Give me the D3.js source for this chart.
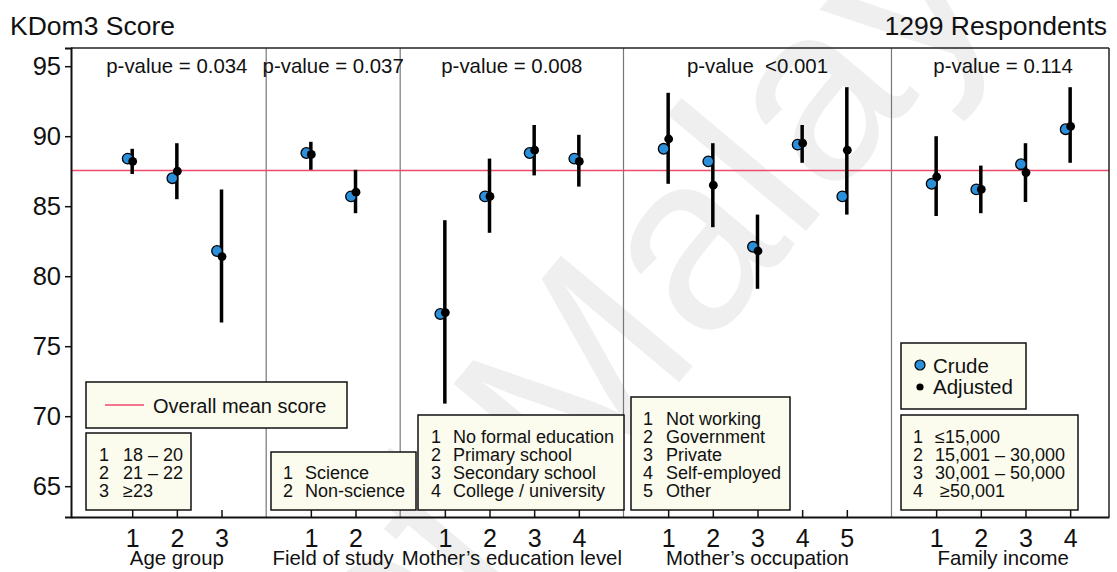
<!DOCTYPE html>
<html>
<head>
<meta charset="utf-8">
<script src="https://cdn.jsdelivr.net/npm/d3@7"></script>
<style>
  html, body { margin: 0; padding: 0; background: #fff; }
  svg { display: block; font-family: "Liberation Sans", Arial, sans-serif; }
  text { white-space: pre; }
</style>
</head>
<body>
<svg id="chart" width="1117" height="572"></svg>
<script>
// ---- data ----
const groups = ["Age group", "Field of study", "Mother\u2019s education level", "Mother\u2019s occupation", "Family income"];
const pValues = ["p-value = 0.034", "p-value = 0.037", "p-value = 0.008", "p-value  <0.001", "p-value = 0.114"];
const categoryLabels = [
  ["18 \u2013 20", "21 \u2013 22", "\u226523"],
  ["Science", "Non-science"],
  ["No formal education", "Primary school", "Secondary school", "College / university"],
  ["Not working", "Government", "Private", "Self-employed", "Other"],
  ["\u226415,000", "15,001 \u2013 30,000", "30,001 \u2013 50,000", " \u226550,001"]
];
// crude means, adjusted means and 95% CI of adjusted means, in category order
const crude    = [88.4, 87.0, 81.8,  88.8, 85.7,  77.3, 85.7, 88.8, 88.4,  89.1, 88.2, 82.1, 89.4, 85.7,  86.6, 86.2, 88.0, 90.5];
const adjusted = [88.2, 87.5, 81.4,  88.7, 86.0,  77.4, 85.7, 89.0, 88.2,  89.8, 86.5, 81.8, 89.5, 89.0,  87.1, 86.2, 87.4, 90.7];
const lower    = [87.3, 85.5, 76.7,  87.6, 84.5,  70.9, 83.1, 87.2, 86.4,  86.6, 83.5, 79.1, 88.1, 84.4,  84.3, 84.5, 85.3, 88.1];
const upper    = [89.1, 89.5, 86.2,  89.6, 87.6,  84.0, 88.4, 90.8, 90.1,  93.1, 89.5, 84.4, 90.8, 93.5,  90.0, 87.9, 89.5, 93.5];
const overallMean = 87.55;
const yTicks = [65, 70, 75, 80, 85, 90, 95];
const respondents = "1299 Respondents";
const yTitle = "KDom3 Score";

// ---- layout ----
const svg = d3.select("#chart");
const L = 71, R = 1109, T = 48, B = 517;
const BLUE = "#2b8fd9", RED = "#ee4a6c", CREAM = "#fbfbee";

// slot index for every category; groups are separated by one empty slot holding the divider
const points = [];
const groupInfo = [];
let slot = 0, k = 0;
categoryLabels.forEach((labels, g) => {
  const start = slot;
  labels.forEach((lab, i) => {
    points.push({ g, i, slot, crude: crude[k], adj: adjusted[k], lo: lower[k], hi: upper[k] });
    slot++; k++;
  });
  groupInfo.push({ g, start, end: slot - 1, divider: slot });
  slot++;
});

const x = d3.scaleLinear().domain([-1.37, 21.87]).range([L, R]);
const y = d3.scaleLinear().domain([62.8, 96.3]).range([B, T]);

// watermark
const wm = svg.append("g").attr("transform", "translate(572,510) rotate(-50)")
  .attr("font-size", 250).attr("fill", "#efefef");
wm.append("text").attr("text-anchor", "end").text("University of ");
wm.append("text").attr("text-anchor", "start").text("Malaya");

// group dividers
svg.selectAll("line.div").data(groupInfo.slice(0, -1)).join("line")
  .attr("x1", d => x(d.divider)).attr("x2", d => x(d.divider))
  .attr("y1", T).attr("y2", B)
  .attr("stroke", "#777").attr("stroke-width", 1.2);

// overall mean line
svg.append("line")
  .attr("x1", L).attr("x2", R)
  .attr("y1", y(overallMean)).attr("y2", y(overallMean))
  .attr("stroke", RED).attr("stroke-width", 1.5);

// frame
svg.append("line").attr("x1", L).attr("x2", R).attr("y1", T).attr("y2", T).attr("stroke", "#222").attr("stroke-width", 1.5);
svg.append("line").attr("x1", R).attr("x2", R).attr("y1", T).attr("y2", B).attr("stroke", "#222").attr("stroke-width", 1.5);

// y axis
const yAxis = svg.append("g").attr("transform", `translate(${L},0)`)
  .call(d3.axisLeft(y).tickValues(yTicks).tickSize(6).tickPadding(4));
yAxis.select(".domain").attr("stroke", "#111").attr("stroke-width", 2);
yAxis.selectAll(".tick line").attr("stroke", "#111").attr("stroke-width", 1.5);
yAxis.selectAll(".tick text").attr("font-size", 25.5).attr("fill", "#111")
  .attr("font-family", "Liberation Sans, Arial, sans-serif");

// x axis: ticks point inward
const xAxis = svg.append("g").attr("transform", `translate(0,${B})`)
  .call(d3.axisBottom(x).tickValues(points.map(p => p.slot))
    .tickFormat((d, i) => String(points[i].i + 1)).tickSizeInner(-7).tickSizeOuter(0).tickPadding(0));
xAxis.select(".domain").attr("stroke", "#111").attr("stroke-width", 2);
xAxis.selectAll(".tick line").attr("stroke", "#111").attr("stroke-width", 1.5);
xAxis.selectAll(".tick text").attr("font-size", 25).attr("fill", "#111")
  .attr("font-family", "Liberation Sans, Arial, sans-serif")
  .attr("dy", null).attr("y", 30);

// group titles and p-values
groupInfo.forEach(gi => {
  const cx = (x(gi.start) + x(gi.end)) / 2;
  svg.append("text").attr("x", cx).attr("y", 565).attr("text-anchor", "middle")
    .attr("font-size", 20.4).attr("fill", "#111").text(groups[gi.g]);
  svg.append("text").attr("x", cx).attr("y", 73).attr("text-anchor", "middle")
    .attr("font-size", 20.4).attr("fill", "#111").text(pValues[gi.g]);
});

// error bars and points
const marks = svg.append("g");
marks.selectAll("line.ci").data(points).join("line")
  .attr("x1", d => x(d.slot)).attr("x2", d => x(d.slot))
  .attr("y1", d => y(d.lo)).attr("y2", d => y(d.hi))
  .attr("stroke", "#000").attr("stroke-width", 3.5);
marks.selectAll("circle.crude").data(points).join("circle")
  .attr("cx", d => x(d.slot) - 4.5).attr("cy", d => y(d.crude)).attr("r", 5.3)
  .attr("fill", BLUE).attr("stroke", "#000").attr("stroke-width", 1.3);
marks.selectAll("circle.adj").data(points).join("circle")
  .attr("cx", d => x(d.slot) + 0.5).attr("cy", d => y(d.adj)).attr("r", 4.4)
  .attr("fill", "#000");

// titles
svg.append("text").attr("x", 10).attr("y", 35).attr("font-size", 26.5).attr("fill", "#111").text(yTitle);
svg.append("text").attr("x", 1107).attr("y", 35).attr("text-anchor", "end").attr("font-size", 26.5).attr("fill", "#111").text(respondents);

// legend boxes
function box(x0, y0, x1, y1) {
  svg.append("rect").attr("x", x0).attr("y", y0).attr("width", x1 - x0).attr("height", y1 - y0)
    .attr("fill", CREAM).attr("stroke", "#111").attr("stroke-width", 1.5);
}

// overall mean key
box(86, 382, 347, 428);
svg.append("line").attr("x1", 105).attr("x2", 144).attr("y1", 405).attr("y2", 405)
  .attr("stroke", RED).attr("stroke-width", 1.5);
svg.append("text").attr("x", 153).attr("y", 413).attr("font-size", 20).attr("fill", "#111").text("Overall mean score");

// crude / adjusted key
box(901, 343, 1026, 409);
svg.append("circle").attr("cx", 920).attr("cy", 365).attr("r", 5).attr("fill", BLUE).attr("stroke", "#000").attr("stroke-width", 1.2);
svg.append("circle").attr("cx", 920).attr("cy", 387).attr("r", 3.6).attr("fill", "#000");
svg.append("text").attr("x", 933).attr("y", 373).attr("font-size", 20.5).attr("fill", "#111").text("Crude");
svg.append("text").attr("x", 933).attr("y", 394).attr("font-size", 20.5).attr("fill", "#111").text("Adjusted");

// category keys
const keyBoxes = [
  { x0: 86,  y0: 433, x1: 191,  y1: 510, nx: 99,  tx: 123 },
  { x0: 271, y0: 452, x1: 416,  y1: 510, nx: 283, tx: 305 },
  { x0: 418, y0: 415, x1: 624,  y1: 510, nx: 431, tx: 453 },
  { x0: 631, y0: 397, x1: 790,  y1: 510, nx: 643, tx: 666 },
  { x0: 901, y0: 415, x1: 1078, y1: 510, nx: 913, tx: 935 }
];
keyBoxes.forEach((kb, g) => {
  box(kb.x0, kb.y0, kb.x1, kb.y1);
  const labels = categoryLabels[g];
  const lastBase = 497;
  labels.forEach((lab, i) => {
    const yy = lastBase - (labels.length - 1 - i) * 18;
    svg.append("text").attr("x", kb.nx).attr("y", yy).attr("font-size", 18).attr("fill", "#111").text(String(i + 1));
    svg.append("text").attr("x", kb.tx).attr("y", yy).attr("font-size", 18).attr("fill", "#111").text(lab);
  });
});
</script>
</body>
</html>
